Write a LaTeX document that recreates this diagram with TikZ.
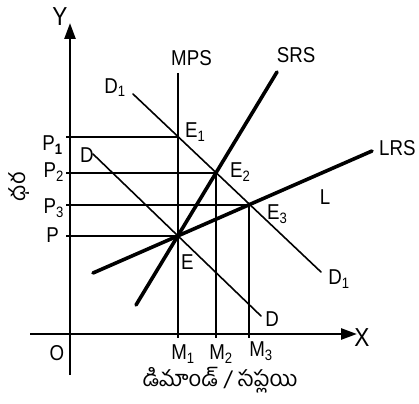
\documentclass[tikz,border=0pt]{standalone}
\usepackage{fontspec}
\setmainfont{Liberation Sans}[FakeStretch=0.87]
\newfontfamily\telugu[Script=Telugu]{Hind Guntur}
\usetikzlibrary{arrows.meta,calc}

\begin{document}
\begin{tikzpicture}[
  x=1pt, y=-1pt,
  axis/.style={line width=2.6pt, -{Triangle[length=16pt,width=11pt]}},
  curve/.style={line width=1.6pt, line cap=round},
  supply/.style={line width=3.6pt, line cap=round},
  guide/.style={line width=1.6pt},
  lab/.style={font=\fontsize{21.5}{23}\selectfont, inner sep=0pt},
  axlab/.style={font=\fontsize{26}{28}\selectfont, inner sep=0pt},
  tlab/.style={font=\telugu\fontsize{22}{24}\selectfont, inner sep=0pt}
]
\useasboundingbox (0,0) rectangle (419,403);

% ---------------------------------------------------------------------------
% Equilibrium points and line ends
% ---------------------------------------------------------------------------
\coordinate (O)  at (70,334);
\coordinate (E)  at (178,236);
\coordinate (E1) at (178,137);
\coordinate (E2) at (216,173);
\coordinate (E3) at (249,205);

\coordinate (srsLow)  at (136,305);
\coordinate (srsHigh) at (277,72);
\coordinate (lrsLow)  at (93,273);
\coordinate (lrsHigh) at (372,151);
\coordinate (dOneTop) at (133,94);
\coordinate (dOneBot) at (321,272);
\coordinate (dTop)    at (93,154);
\coordinate (dBot)    at (261,316);
\coordinate (mpsTop)  at (178,73);

% ---------------------------------------------------------------------------
% Axes
% ---------------------------------------------------------------------------
\draw[axis] (70,375) -- (70,23);
\draw[axis] (30,334) -- (357,334);
\node[axlab] (ylab) at (60,17) {Y};
\node[axlab] (xlab) at (362,338) {X};
\node[lab] (olab) at (57,353) {O};

% ---------------------------------------------------------------------------
% Guide lines to the axes
% ---------------------------------------------------------------------------
\draw[guide] (66,137) -- (E1);
\draw[guide] (66,173) -- (E2);
\draw[guide] (66,205) -- (E3);
\draw[guide] (66,236) -- (E);
\draw[guide] (mpsTop) -- (178,338);
\draw[guide] (E2) -- (216,338);
\draw[guide] (E3) -- (249,338);

% ---------------------------------------------------------------------------
% Demand and supply curves
% ---------------------------------------------------------------------------
\draw[curve] (dOneTop) -- (dOneBot);
\draw[curve] (dTop) -- (dBot);
\draw[supply] (srsLow) -- (srsHigh);
\draw[supply] (lrsLow) -- (lrsHigh);

% ---------------------------------------------------------------------------
% Labels
% ---------------------------------------------------------------------------
\node[lab, anchor=west] (mpslab) at (171,58) {MPS};
\node[lab] (srslab) at (296,55) {SRS};
\node[lab, anchor=west] (lrslab) at (379,148) {LRS};
\node[lab] (llab) at (325,197) {L};

\node[lab] (d1top) at (115,88) {D\textsubscript{1}};
\node[lab] (dtop) at (87,155) {D};
\node[lab] (d1bot) at (339,279) {D\textsubscript{1}};
\node[lab] (dbot) at (272,319) {D};

\node[lab, anchor=west] (e1lab) at (185,132) {E\textsubscript{1}};
\node[lab, anchor=west] (e2lab) at (230,172) {E\textsubscript{2}};
\node[lab, anchor=west] (e3lab) at (267,214) {E\textsubscript{3}};
\node[lab, anchor=west] (elab) at (181,262) {E};

\node[lab, anchor=east] (p1lab) at (64,145) {P$_{\mathbf{1}}$};
\node[lab, anchor=east] (p2lab) at (64,172) {P\textsubscript{2}};
\node[lab, anchor=east] (p3lab) at (64,208) {P\textsubscript{3}};
\node[lab, anchor=east] (plab) at (59,235) {P};

\node[lab] (m1lab) at (183,354) {M\textsubscript{1}};
\node[lab] (m2lab) at (221,354) {M\textsubscript{2}};
\node[lab] (m3lab) at (261,351) {M\textsubscript{3}};

\node[tlab, rotate=90] (pricelab) at (19,187) {ధర};
\node[tlab] (qtylab) at (220,380) {డిమాండ్ / సప్లయి};

\end{tikzpicture}
\end{document}
